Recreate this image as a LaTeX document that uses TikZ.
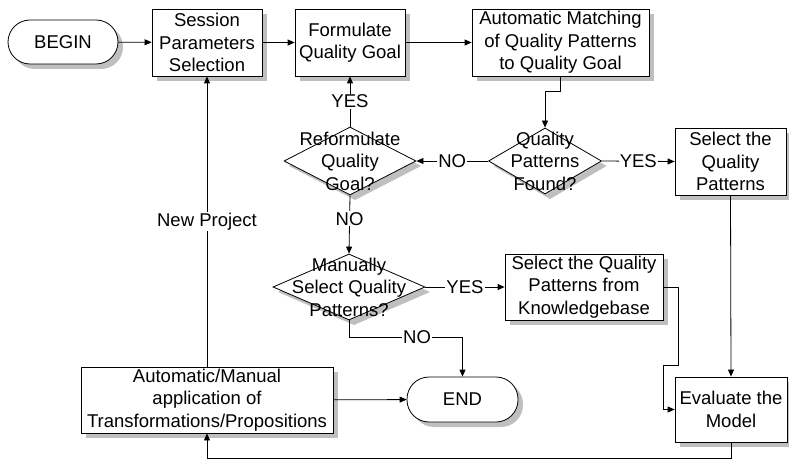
\documentclass[tikz,border=0pt]{standalone}
\usepackage{fontspec}
\setmainfont{Liberation Sans}
\usetikzlibrary{shapes.geometric,arrows.meta}

\begin{document}
\begin{tikzpicture}[x=1pt,y=-1pt,line width=0.8pt,
        font=\fontsize{18.5}{22.5}\selectfont,
        box/.style={draw, fill=white, align=center, inner sep=0pt},
        terminal/.style={box, rounded corners=22pt},
        decision/.style={box, diamond, aspect=1.7},
        shadowfill/.style={fill=black, fill opacity=0.25, draw=none},
        flow/.style={-{Triangle[length=7pt,width=6pt]}},
        lbl/.style={fill=white, inner sep=1pt}]
    % \draw[help lines] (0,0) grid (789,462);
    \useasboundingbox (0,0) rectangle (789,462);

    % shadows first, 5 units right and down of each shape
    \path[shadowfill] (157,14) rectangle (267,81);
    \path[shadowfill] (300,14) rectangle (410,81);
    \path[shadowfill] (477,14) rectangle (654,81);
    \path[shadowfill] (680,133) rectangle (791,200);
    \path[shadowfill] (510,259) rectangle (668,325);
    \path[shadowfill] (86,372) rectangle (338,438);
    \path[shadowfill] (680,382) rectangle (792,447);
    \path[shadowfill, rounded corners=22pt] (13,25) rectangle (123,69);
    \path[shadowfill, rounded corners=22pt] (412,382) rectangle (523,427);
    \path[shadowfill] (550,133) -- (606.5,166) -- (550,199) -- (493.5,166) -- cycle;
    \path[shadowfill] (355,132) -- (421,166) -- (355,200) -- (289,166) -- cycle;
    \path[shadowfill] (354,259) -- (430,292) -- (354,325) -- (278,292) -- cycle;

    % top row
    \node[terminal, minimum width=110pt, minimum height=44pt] (begin) at (63,42) {BEGIN};
    \node[box, minimum width=110pt, minimum height=67pt] (session) at (207,42.5) {Session\\Parameters\\Selection};
    \node[box, minimum width=110pt, minimum height=67pt] (goal) at (350,42.5) {Formulate\\Quality Goal};
    \node[box, minimum width=177pt, minimum height=67pt] (match) at (560.5,42.5) {Automatic Matching\\of Quality Patterns\\to Quality Goal};

    % decisions
    \node[decision, minimum width=113pt, minimum height=66pt] (found) at (545,161) {};
    \node[align=center] (foundtext) at (found) {Quality\\Patterns\\Found?};
    \node[decision, minimum width=132pt, minimum height=68pt] (reform) at (350,161) {};
    \node[align=center] (reformtext) at (reform) {Reformulate\\Quality\\Goal?};
    \node[decision, minimum width=152pt, minimum height=66pt] (manual) at (349,287) {};
    \node[align=center] (manualtext) at (manual) {Manually\\Select Quality\\Patterns?};

    \node[box, minimum width=111pt, minimum height=67pt] (select) at (730.5,161.5) {Select the\\Quality\\Patterns};
    \node[box, minimum width=158pt, minimum height=66pt] (kbase) at (584,287) {Select the Quality\\Patterns from\\Knowledgebase};

    % bottom row
    \node[box, minimum width=252pt, minimum height=66pt] (apply) at (207,400) {Automatic/Manual\\application of\\Transformations/Propositions};
    \node[terminal, minimum width=111pt, minimum height=45pt] (end) at (462.5,399.5) {END};
    \node[box, minimum width=112pt, minimum height=65pt] (eval) at (731,409.5) {Evaluate the\\Model};

    % connectors
    \draw[flow] (begin) -- (session);
    \draw[flow] (session) -- (goal);
    \draw[flow] (goal) -- (match);
    \draw[flow] (match.south) -- ++(0,15) -| (found.north);
    \draw[flow] (found.west) -- node[lbl] {NO} (reform.east);
    \draw[flow] (found.east) -- node[lbl] {YES} (select.west);
    \draw[flow] (reform.north) -- node[lbl] {YES} (goal.south);
    \draw[flow] (reform.south) -- node[lbl, pos=0.4] {NO} (manual.north);
    \draw[flow] (manual.east) -- node[lbl] {YES} (kbase.west);
    \draw[flow] (manual.south) -- ++(0,17) -| node[lbl, pos=0.3] {NO} (end.north);
    \draw[flow] (select.south) -- (eval.north);
    \draw[flow] (kbase.east) -- ++(15,0) -- ++(0,78) -- ++(-15,0) |- (eval.west);
    \draw[flow] (eval.south) -- ++(0,16) -| (apply.south);
    \draw[flow] (apply.north) -- node[lbl] {New Project} (session.south);
    \draw[flow] (apply) -- (end);
\end{tikzpicture}
\end{document}
